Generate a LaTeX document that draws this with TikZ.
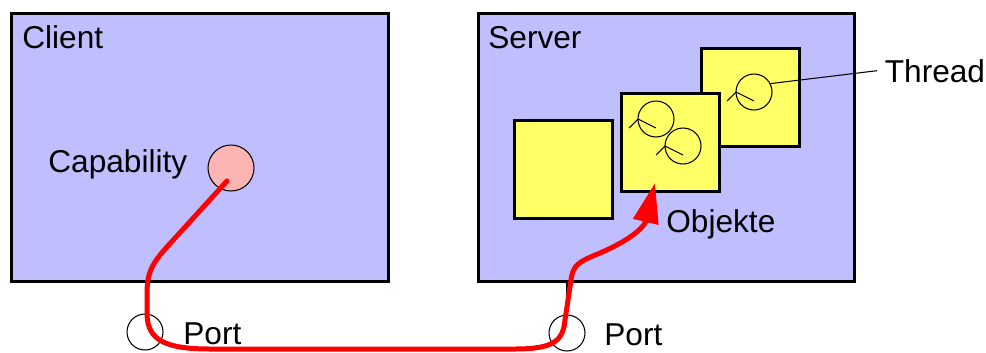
\documentclass[tikz,border=0pt]{standalone}
\usepackage{fontspec}
\setmainfont{Liberation Sans}
\usepackage{tikz}
\usetikzlibrary{positioning,arrows.meta}
\tikzstyle{pixelPlane} = [x = 0.02cm, y = -0.02cm]
\definecolor{boxColor}{RGB}{191,191,255}
\definecolor{objectColor}{RGB}{255,255,102}
\definecolor{capColor}{RGB}{255,180,180}
\tikzstyle{hostBox} = [draw=black, fill=boxColor, line width=0.06cm, minimum width=7.52cm, minimum height=5.36cm, anchor=north west, inner sep=0pt]
\tikzstyle{objectBox} = [draw=black, fill=objectColor, line width=0.06cm, minimum size=1.96cm, anchor=north west, inner sep=0pt]
\tikzstyle{threadCircle} = [draw=black, circle, line width=0.6pt, minimum size=0.72cm, inner sep=0pt]
\tikzstyle{portCircle} = [draw=black, circle, line width=0.6pt, minimum size=0.72cm, inner sep=0pt]
\tikzstyle{labelText} = [font=\fontsize{18}{21}\selectfont, anchor=base west, inner sep=0pt]
\tikzstyle{requestPath} = [color=red, line width=0.1cm, line cap=round, line join=round, -{Triangle[length=0.8cm, width=0.5cm]}]
\newcommand{\threadSymbol}[3]{
  \node [threadCircle] (#1) at (#2, #3) {};
  \draw [line width=0.6pt] (#2 - 27, #3 + 9) -- (#2 - 18, #3) -- (#2, #3 + 9);
}
\begin{document}
\begin{tikzpicture}[pixelPlane]
  \useasboundingbox (0,0) rectangle (986,352);
  % client and server
  \node [hostBox, minimum width=7.54cm] (client) at (10,12) {};
  \node [hostBox] (server) at (477,12) {};
  \node [labelText] (clientLabel) at (22,48) {Client};
  \node [labelText] (serverLabel) at (488,48) {Server};

  % capability
  \node [draw=black, fill=capColor, circle, line width=0.6pt, minimum size=0.92cm, inner sep=0pt] (cap) at (231,168) {};
  \node [labelText] (capLabel) at (48,172) {Capability};

  % objects with threads
  \node [objectBox] (objA) at (513,119) {};
  \node [objectBox] (objC) at (700,47) {};
  \node [objectBox] (objB) at (620,92) {};
  \threadSymbol{tOne}{656}{119}
  \threadSymbol{tTwo}{683}{146}
  \threadSymbol{tThree}{754}{92}
  \node [labelText, inner sep=0.15cm] (threadLabel) at (877,82) {Thread};
  \draw [line width=0.6pt] (tThree.27) -- (threadLabel.west);
  \node [labelText] (objLabel) at (666,232) {Objekte};

  % ports
  \node [portCircle] (portL) at (145,332) {};
  \node [portCircle] (portR) at (567,333) {};
  \node [labelText] (portLLabel) at (183,344) {Port};
  \node [labelText] (portRLabel) at (604,345) {Port};
  \draw [line width=0.6pt] (portR.north) -- (portR.north |- server.south);

  % request
  \coordinate (capEnd) at (227,181);
  \coordinate (objTarget) at (655,183);
  \draw [requestPath] (capEnd) -- (166,248) .. controls (150,266) and (147,275) .. (147,295)
    -- (147,315) .. controls (148,340) and (165,349) .. (210,349)
    -- (515,349) .. controls (555,349) and (563,340) .. (565,320)
    -- (571,280) .. controls (573,265) and (578,262) .. (600,253)
    .. controls (635,238) and (645,225) .. (objTarget);
\end{tikzpicture}
\end{document}
